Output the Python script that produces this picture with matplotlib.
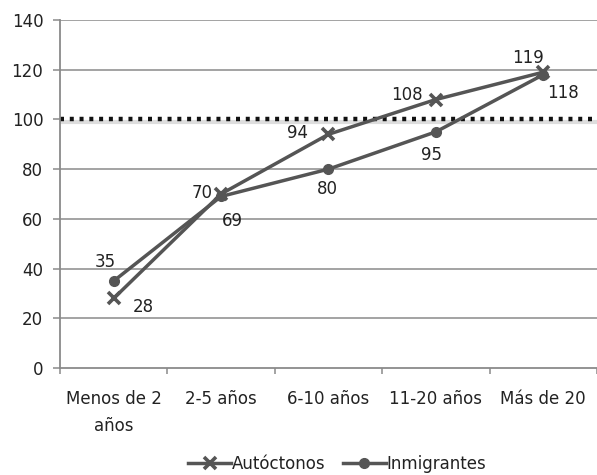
import matplotlib
matplotlib.use("Agg")
import matplotlib.pyplot as plt
import numpy as np

categories = ["Menos de 2\naños", "2-5 años", "6-10 años", "11-20 años", "Más de 20"]
autoctonos = [28, 70, 94, 108, 119]
inmigrantes = [35, 69, 80, 95, 118]
reference = 100
yticks = [0, 20, 40, 60, 80, 100, 120, 140]

# label offsets (points) for each data label
auto_offsets = [(21, -6), (-14, 1), (-22, 1), (-21, 3), (-11, 10)]
inm_offsets = [(-6, 14), (8, -18), (-1, -14), (-3, -17), (14, -13)]

FS = 12
fig = plt.figure(figsize=(5.97, 4.75), dpi=100)
ax = fig.add_axes([0.1005, 0.2253, 0.8995, 0.7327])

x = np.arange(len(categories))
ax.set_xlim(-0.5, len(categories) - 0.5)
ax.set_ylim(0, 140)

for yv in yticks[1:]:
    if yv != reference:
        ax.axhline(yv, color="#8a8a8a", lw=1.1, zorder=1)
ax.axhline(reference - 1.2, color="#dddddd", lw=3, zorder=1.5)
ax.axhline(reference, color="#111111", lw=3.2, ls=(0, (0.9, 1.3)), zorder=2)

lc = "#555555"
ax.plot(x, autoctonos, color=lc, lw=2.5, marker="x", ms=8, mew=2.6, zorder=4,
        label="Autóctonos")
ax.plot(x, inmigrantes, color=lc, lw=2.5, marker="o", ms=7, zorder=4,
        label="Inmigrantes")

tc = "#222222"
for xi, v, off in zip(x, autoctonos, auto_offsets):
    ax.annotate(str(v), (xi, v), xytext=off, textcoords="offset points",
                ha="center", va="center", fontsize=FS, color=tc)
for xi, v, off in zip(x, inmigrantes, inm_offsets):
    ax.annotate(str(v), (xi, v), xytext=off, textcoords="offset points",
                ha="center", va="center", fontsize=FS, color=tc)

ax.set_yticks(yticks)
ax.set_yticklabels([str(t) for t in yticks], fontsize=FS, color=tc)
ax.set_xticks(x)
ax.set_xticklabels(categories, fontsize=FS, color=tc, linespacing=1.6)
ax.tick_params(axis="x", length=0, pad=16)
ax.set_xticks(np.arange(-0.5, len(categories)), minor=True)
ax.tick_params(axis="x", which="minor", length=4.5, width=1.1, color="#8a8a8a")
ax.tick_params(axis="y", length=5, width=1.1, color="#8a8a8a", pad=7)

for s in ["top", "right"]:
    ax.spines[s].set_visible(False)
for s in ["left", "bottom"]:
    ax.spines[s].set_color("#8a8a8a")
    ax.spines[s].set_linewidth(1.3)

fig.legend(loc="lower center", bbox_to_anchor=(0.565, -0.027), ncol=2, frameon=False,
           fontsize=FS, handlelength=2.6, handletextpad=0.05, columnspacing=1.0,
           labelcolor=tc)

fig.savefig("out.png", dpi=100)
